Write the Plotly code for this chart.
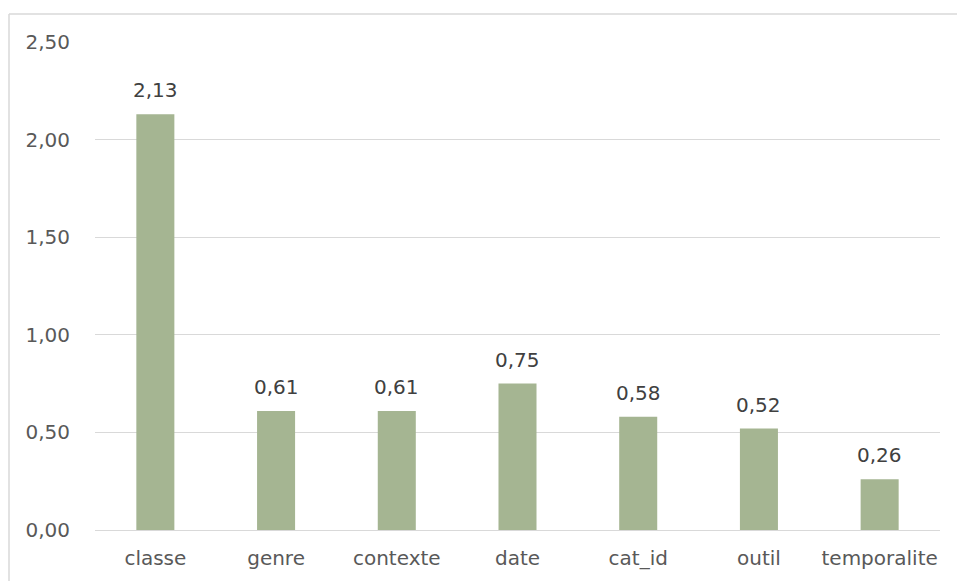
import plotly.graph_objects as go

categories = ["classe", "genre", "contexte", "date", "cat_id", "outil", "temporalite"]
values = [2.13, 0.61, 0.61, 0.75, 0.58, 0.52, 0.26]
y_ticks = [0, 0.5, 1.0, 1.5, 2.0, 2.5]

FONT = "'DejaVu Sans', sans-serif"
TXT = "#595959"
GRID = "#D9D9D9"
FS = 20

fig = go.Figure()
fig.add_trace(go.Bar(
    x=categories, y=values,
    marker=dict(color="#A5B592", line=dict(width=0)),
    hoverinfo="skip",
))

for c, v in zip(categories, values):
    fig.add_annotation(
        x=c, y=v, text=f"{v:.2f}".replace(".", ","),
        showarrow=False, yanchor="bottom", yshift=10,
        font=dict(family=FONT, size=FS, color="#404040"),
    )

L, R, T, B = 95, 17, 42, 51
W, H = 957, 581
pw, ph = W - L - R, H - T - B

fig.update_layout(
    width=W, height=H,
    margin=dict(l=L, r=R, t=T, b=B),
    paper_bgcolor="white", plot_bgcolor="white",
    bargap=0.685,
    separators=", ",
    showlegend=False,
    font=dict(family=FONT, size=FS, color=TXT),
    xaxis=dict(
        showgrid=False, showline=True, linecolor=GRID, linewidth=1,
        ticks="outside", ticklen=10, tickcolor="rgba(0,0,0,0)",
        tickfont=dict(family=FONT, size=FS, color=TXT),
    ),
    yaxis=dict(
        range=[0, 2.5], tickvals=y_ticks, tickformat=".2f",
        showgrid=True, gridcolor=GRID, gridwidth=1,
        zeroline=False, showline=False,
        ticks="outside", ticklen=20, tickcolor="rgba(0,0,0,0)",
        tickfont=dict(family=FONT, size=FS, color=TXT),
    ),
    shapes=[
        dict(type="line", xref="paper", yref="paper",
             x0=(9 - L) / pw, x1=(9 - L) / pw,
             y0=(H - B - 14) / ph, y1=-0.2,
             line=dict(color=GRID, width=1.5)),
        dict(type="line", xref="paper", yref="paper",
             x0=(9 - L) / pw, x1=1.2,
             y0=(H - B - 14) / ph, y1=(H - B - 14) / ph,
             line=dict(color=GRID, width=1.5)),
    ],
)

fig.write_html("out.html", config={"displayModeBar": False})

with open("out.html", "r", encoding="utf-8") as f:
    html = f.read()
html = html.replace("<body>", '<body style="margin:0;padding:0;overflow:hidden">', 1)
with open("out.html", "w", encoding="utf-8") as f:
    f.write(html)
